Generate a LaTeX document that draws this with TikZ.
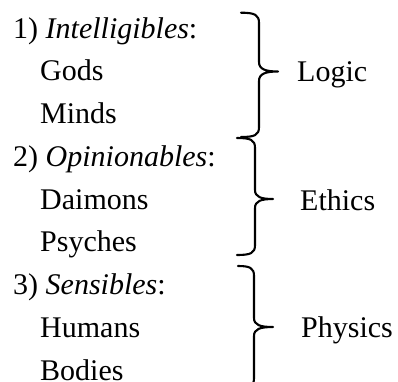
\documentclass[tikz,border=0pt]{standalone}
\usepackage{fontspec}
\setmainfont{Liberation Serif}
\begin{document}
\begin{tikzpicture}[x=1pt,y=-1pt,
  txt/.style={anchor=base west,inner sep=0pt,font=\fontsize{30}{36}\selectfont},
  brc/.style={line width=2.1pt,line cap=round,line join=round}]
\useasboundingbox (0,0) rectangle (398,381);
% left column
\node[txt] (h1) at (13,38) {1) \textit{Intelligibles}:};
\node[txt] (g1) at (40,80.75) {Gods};
\node[txt] (m1) at (40,123.5) {Minds};
\node[txt] (h2) at (13,166.25) {2) \textit{Opinionables}:};
\node[txt] (d2) at (40,209) {Daimons};
\node[txt] (p2) at (40,251.75) {Psyches};
\node[txt] (h3) at (13,294.5) {3) \textit{Sensibles}:};
\node[txt] (u3) at (40,337.25) {Humans};
\node[txt] (b3) at (40,380) {Bodies};
% right labels
\node[txt] (logic) at (297,81) {Logic};
\node[txt] (ethics) at (300,210) {Ethics};
\node[txt] (physics) at (301,337.25) {Physics};
% braces
\draw[brc] (241,12.7) .. controls (255,12.7) and (259,15) .. (259,23) -- (259,62)
  .. controls (259,69) and (265,71.5) .. (278,71.5)
  .. controls (265,71.5) and (259,74) .. (259,81) -- (259,127)
  .. controls (259,135) and (255,137) .. (241,137);
\draw[brc] (237,138) .. controls (251,138) and (255,140) .. (255,148) -- (255,190)
  .. controls (255,197) and (261,199) .. (273,199)
  .. controls (261,199) and (255,201) .. (255,208) -- (255,245)
  .. controls (255,253) and (251,255) .. (237,255);
\draw[brc] (238,266) .. controls (250,266) and (254,268) .. (254,276) -- (254,318)
  .. controls (254,325) and (260,327) .. (273,327)
  .. controls (260,327) and (254,329) .. (254,336) -- (254,378)
  .. controls (254,386) and (250,388) .. (238,388);
\end{tikzpicture}
\end{document}
